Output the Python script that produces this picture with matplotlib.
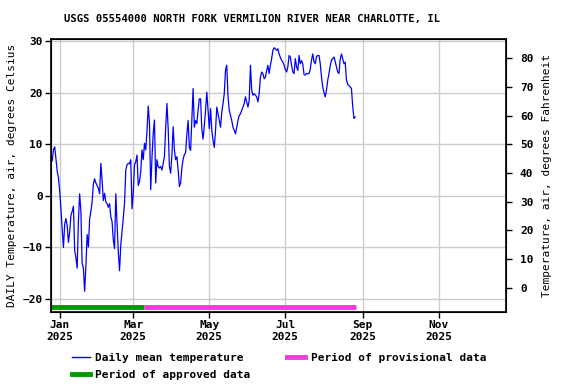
import datetime as dt
import numpy as np
import matplotlib
matplotlib.use("Agg")
import matplotlib.pyplot as plt
import matplotlib.dates as mdates

# daily mean air temperature (deg C), one value per day from Dec 26 2024
start_day = dt.date(2024, 12, 26)
temp_c = [
    6.8, 9.0, 9.5, 7.2, 4.8, 3.5,
    1.0, -2.5, -6.5, -10.0, -5.5, -4.4, -5.8, -9.0, -7.0, -3.8,
    -3.0, -2.0, -10.5, -12.0, -14.0, -5.0, 0.4, -3.0, -13.1, -14.0,
    -18.5, -13.7, -7.5, -9.9, -4.5, -3.0, -1.2, 2.3, 3.3, 2.5,
    2.0, 1.5, 0.4, 6.3, 3.0, -0.9, 0.5, -1.2, -1.5, -2.2,
    -1.5, -4.0, -5.0, -8.6, -10.2, 0.4, -5.5, -10.8, -14.5, -9.5,
    -6.9, -4.3, -1.4, 5.0, 6.0, 6.3, 6.2, 7.0, -2.5, 0.5,
    6.0, 6.6, 7.9, 2.0, 2.8, 4.7, 8.9, 7.0, 10.2, 8.9,
    12.5, 17.4, 14.1, 1.2, 7.3, 12.1, 14.7, 2.5, 7.0, 5.7,
    5.4, 5.7, 5.0, 6.3, 7.6, 13.1, 17.9, 13.1, 5.7, 4.4,
    7.9, 13.4, 8.9, 7.0, 7.6, 5.0, 1.8, 2.5, 5.5, 7.1,
    8.0, 8.4, 12.0, 14.6, 9.4, 8.8, 14.6, 20.8, 13.3, 14.6,
    14.0, 16.6, 18.8, 18.8, 13.0, 11.0, 13.6, 16.6, 20.1, 16.6,
    13.0, 16.9, 12.7, 10.7, 9.4, 12.7, 17.2, 15.9, 14.6, 13.3,
    16.2, 17.9, 19.8, 24.4, 25.3, 19.2, 16.6, 15.6, 14.6, 13.3,
    12.7, 12.0, 13.3, 14.6, 15.6, 15.9, 16.6, 17.2, 17.9, 19.2,
    18.2, 17.2, 18.5, 25.3, 20.5, 19.5, 19.8, 19.5, 19.2, 18.2,
    19.8, 23.0, 24.0, 23.7, 22.7, 23.0, 24.3, 25.3, 23.7, 25.3,
    26.6, 28.2, 28.7, 28.5, 28.2, 28.5, 27.5, 26.8, 26.3, 25.9,
    25.3, 24.5, 24.0, 25.0, 27.2, 26.9, 25.3, 24.0, 23.7, 26.6,
    25.0, 24.3, 27.2, 25.6, 26.2, 25.5, 23.5, 23.4, 23.7, 23.7,
    23.7, 24.6, 26.3, 27.5, 26.0, 25.6, 27.0, 27.2, 27.2, 25.6,
    23.0, 21.1, 20.0, 19.2, 20.5, 22.4, 23.7, 25.2, 26.3, 26.6,
    26.9, 26.0, 25.0, 24.0, 23.7, 26.5, 27.5, 26.6, 25.6, 25.9,
    22.5, 21.6, 21.4, 21.1, 20.8, 17.5, 15.0, 15.3,
]
approved_period = (dt.date(2024, 12, 25), dt.date(2025, 3, 10))
provisional_period = (dt.date(2025, 3, 10), dt.date(2025, 8, 27))
period_y = -21.6

x_limits = (dt.date(2024, 12, 25), dt.date(2025, 12, 25))
y_limits = (-22.5, 30.4)
c_ticks = [-20, -10, 0, 10, 20, 30]
f_ticks = [0, 10, 20, 30, 40, 50, 60, 70, 80]
month_ticks = [dt.date(2025, m, 1) for m in (1, 3, 5, 7, 9, 11)]

title = "USGS 05554000 NORTH FORK VERMILION RIVER NEAR CHARLOTTE, IL"

days = [start_day + dt.timedelta(days=i) for i in range(len(temp_c))]

plt.rcParams['font.family'] = 'DejaVu Sans Mono'
plt.rcParams['font.weight'] = 'bold'
plt.rcParams['font.size'] = 8

fig = plt.figure(figsize=(5.76, 3.84), dpi=100)
ax = fig.add_axes([0.0885, 0.1875, 0.79, 0.711])

ax.plot(days, temp_c, color='#0000ff', lw=0.9, zorder=3)
ax.plot(approved_period, [period_y] * 2, color='#009900', lw=3.5,
        solid_capstyle='butt', zorder=4, clip_on=False)
ax.plot(provisional_period, [period_y] * 2, color='#f03cd8', lw=3.5,
        solid_capstyle='butt', zorder=4)

ax.set_xlim(x_limits)
ax.set_ylim(y_limits)
ax.set_yticks(c_ticks)
ax.set_xticks(month_ticks)
ax.xaxis.set_major_formatter(mdates.DateFormatter('%b\n%Y'))
ax.grid(True, color='#cccccc', lw=1)
ax.set_axisbelow(True)
for s in ax.spines.values():
    s.set_linewidth(1.2)
ax.tick_params(length=4, width=1, pad=2)
ax.set_ylabel("DAILY Temperature, air, degrees Celsius", labelpad=4)

# Fahrenheit axis
ax2 = ax.twinx()
ax2.set_ylim(y_limits[0] * 9 / 5 + 32, y_limits[1] * 9 / 5 + 32)
ax2.set_yticks(f_ticks)
ax2.tick_params(length=4, width=1, pad=6)
ax2.set_ylabel("Temperature, air, degrees Fahrenheit", labelpad=6)

fig.text(0.4375, 0.95, title, ha='center', va='center', fontsize=7.6)

# legend, laid out below the plot like the original
handles = [
    plt.Line2D([], [], color='#0000ff', lw=1),
    plt.Line2D([], [], color='#009900', lw=3.5),
    plt.Line2D([], [], color='#f03cd8', lw=3.5),
    plt.Line2D([], [], color='none'),
]
labels = ["Daily mean temperature", "Period of approved data",
          "Period of provisional data", ""]
fig.legend(handles, labels, ncol=2, loc='upper left',
           bbox_to_anchor=(0.125, 0.080), frameon=False,
           handlelength=1.6, handletextpad=0.5, columnspacing=3.3,
           labelspacing=0.6, borderaxespad=0, borderpad=0)

fig.savefig('out.png', dpi=100)
